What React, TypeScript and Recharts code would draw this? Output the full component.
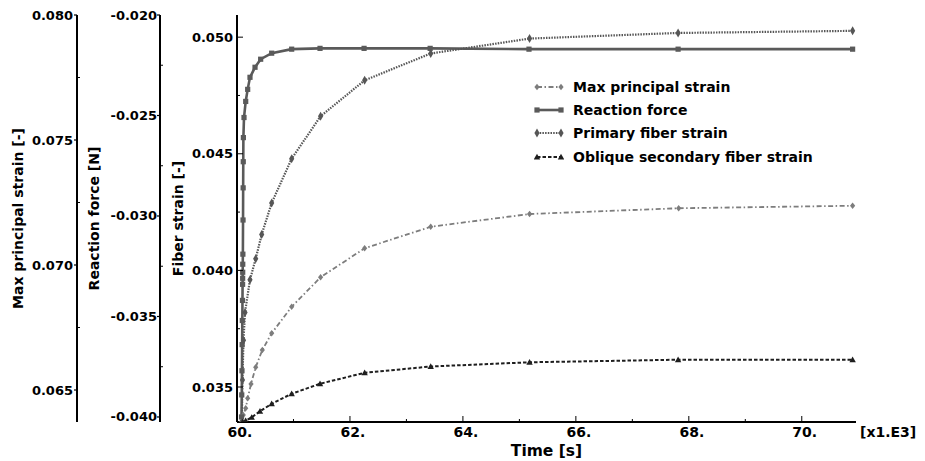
import React from 'react';
import { LineChart, Line, XAxis, YAxis, Legend } from 'recharts';

// Time is in units of 1e3 s
const reactionTime = [60.08, 60.084, 60.088, 60.091, 60.094, 60.097, 60.099, 60.1, 60.101, 60.102, 60.104, 60.107, 60.109, 60.111, 60.113, 60.124, 60.154, 60.189, 60.23, 60.319, 60.419, 60.614, 60.968, 61.47, 62.25, 63.42, 65.17, 67.81, 70.9];
const reactionForce = [-0.04, -0.0389, -0.0377, -0.0364, -0.0352, -0.0342, -0.0334, -0.0331, -0.0328, -0.0324, -0.0319, -0.0302, -0.0286, -0.0273, -0.0261, -0.0251, -0.0243, -0.0237, -0.0231, -0.0226, -0.0222, -0.0219, -0.0217, -0.02166, -0.02166, -0.02166, -0.0217, -0.0217, -0.0217];

const principalTime = [60.07, 60.111, 60.154, 60.189, 60.248, 60.331, 60.448, 60.614, 60.968, 61.48, 62.26, 63.43, 65.18, 67.82, 70.9];
const principalStrain = [0.0637, 0.064, 0.06427, 0.06467, 0.06524, 0.06591, 0.0666, 0.06727, 0.06833, 0.06951, 0.07067, 0.07153, 0.07204, 0.07227, 0.07237];

const primaryTime = [60.085, 60.097, 60.115, 60.142, 60.23, 60.331, 60.437, 60.614, 60.968, 61.48, 62.26, 63.43, 65.18, 67.81, 70.9];
const primaryStrain = [0.0335, 0.0353, 0.037, 0.0382, 0.0396, 0.0405, 0.04154, 0.04289, 0.04479, 0.04661, 0.04815, 0.0493, 0.04994, 0.05018, 0.05027];

const obliqueTime = [60.1, 60.154, 60.26, 60.407, 60.614, 60.968, 61.47, 62.26, 63.43, 65.18, 67.81, 70.9];
const obliqueStrain = [0.0335, 0.03356, 0.0337, 0.03396, 0.03428, 0.03471, 0.03514, 0.03561, 0.03588, 0.03606, 0.03617, 0.03617];

const timeTicks = [60, 61, 62, 63, 64, 65, 66, 67, 68, 69, 70];
const fiberTicks = [0.035, 0.0375, 0.04, 0.0425, 0.045, 0.0475, 0.05];
const reactionTicks = [-0.04, -0.0375, -0.035, -0.0325, -0.03, -0.0275, -0.025, -0.0225, -0.02];
const principalTicks = [0.065, 0.0675, 0.07, 0.0725, 0.075, 0.0775, 0.08];

const FONT = '"DejaVu Sans", sans-serif';
const INK = '#000';

// left axes are stacked outward from the plot in id order
const FIBER = 'y1fiber';
const REACTION = 'y2reaction';
const PRINCIPAL = 'y3principal';

const toPoints = (time: number[], values: number[]) =>
  time.map((t, i) => ({ t, v: values[i] }));

type Marker = 'square' | 'diamond' | 'smallDiamond' | 'triangle';

const series = [
  { name: 'Max principal strain', axis: PRINCIPAL, data: toPoints(principalTime, principalStrain), color: '#7d7d7d', dash: '5 2.5 1.5 2.5', width: 1.8, marker: 'smallDiamond' as Marker },
  { name: 'Reaction force', axis: REACTION, data: toPoints(reactionTime, reactionForce), color: '#5a5a5a', dash: undefined, width: 2.6, marker: 'square' as Marker },
  { name: 'Primary fiber strain', axis: FIBER, data: toPoints(primaryTime, primaryStrain), color: '#565656', dash: '1.5 1.2', width: 2.2, marker: 'diamond' as Marker },
  { name: 'Oblique secondary fiber strain', axis: FIBER, data: toPoints(obliqueTime, obliqueStrain), color: '#1e1e1e', dash: '3.5 2', width: 2, marker: 'triangle' as Marker },
];

const markerShape = (kind: Marker, cx: number, cy: number, color: string, key?: string) => {
  switch (kind) {
    case 'square':
      return <rect key={key} x={cx - 2.6} y={cy - 2.6} width={5.2} height={5.2} fill={color} />;
    case 'diamond':
      return <polygon key={key} points={`${cx},${cy - 4.5} ${cx + 2.6},${cy} ${cx},${cy + 4.5} ${cx - 2.6},${cy}`} fill={color} />;
    case 'smallDiamond':
      return <polygon key={key} points={`${cx},${cy - 3.2} ${cx + 2.6},${cy} ${cx},${cy + 3.2} ${cx - 2.6},${cy}`} fill={color} />;
    default:
      return <polygon key={key} points={`${cx},${cy - 3.2} ${cx + 3.2},${cy + 2.4} ${cx - 3.2},${cy + 2.4}`} fill={color} />;
  }
};

const dotFor = (kind: Marker, color: string) => (props: any) =>
  markerShape(kind, props.cx, props.cy, color, `dot-${props.index}`);

const isMajor = (v: number, step: number) => Math.abs(v / step - Math.round(v / step)) < 1e-6;

const labelStyle = { fontFamily: FONT, fontWeight: 700, fontSize: 13, fill: INK };
const timeLabelStyle = { ...labelStyle, fontSize: 14 };

// Outer value axes: labelled ticks point outward, half ticks point inward
const OuterTick = (props: any) => {
  const { x, y, payload, gap } = props;
  const v = payload.value as number;
  if (!isMajor(v, 0.005)) {
    return <line x1={x} x2={x + 3} y1={y} y2={y} stroke={INK} strokeWidth={1} />;
  }
  return (
    <g>
      <line x1={x - 3} x2={x} y1={y} y2={y} stroke={INK} strokeWidth={1.2} />
      <text x={x - gap} y={y} textAnchor="end" dominantBaseline="central" {...labelStyle}>
        {v.toFixed(3)}
      </text>
    </g>
  );
};

const FiberTick = (props: any) => {
  const { x, y, payload } = props;
  const v = payload.value as number;
  const major = isMajor(v, 0.005);
  return (
    <g>
      <line x1={x} x2={x + (major ? 6 : 3)} y1={y} y2={y} stroke={INK} strokeWidth={1} />
      {major && (
        <text x={x - 4} y={y} textAnchor="end" dominantBaseline="central" {...labelStyle}>
          {v.toFixed(3)}
        </text>
      )}
    </g>
  );
};

const RightTick = (props: any) => {
  const { x, y, payload } = props;
  const major = isMajor(payload.value, 0.005);
  return <line x1={x - (major ? 6 : 3)} x2={x} y1={y} y2={y} stroke={INK} strokeWidth={1} />;
};

const BottomTick = (props: any) => {
  const { x, y, payload } = props;
  const v = payload.value as number;
  const major = v % 2 === 0;
  return (
    <g>
      <line x1={x} x2={x} y1={y} y2={y - (major ? 6 : 3)} stroke={INK} strokeWidth={1} />
      {major && (
        <text x={x + 3} y={y + 10} textAnchor="middle" dominantBaseline="central" {...timeLabelStyle}>
          {`${v}.`}
        </text>
      )}
    </g>
  );
};

const TopTick = (props: any) => {
  const { x, y, payload } = props;
  const major = payload.value % 2 === 0;
  return <line x1={x} x2={x} y1={y} y2={y + (major ? 6 : 3)} stroke={INK} strokeWidth={1} />;
};

const axisTitle = (text: string, dx: number) => (props: any) => {
  const { x, y, height } = props.viewBox;
  const cx = x + dx;
  const cy = y + height / 2;
  return (
    <text
      x={cx}
      y={cy}
      transform={`rotate(-90 ${cx} ${cy})`}
      textAnchor="middle"
      dominantBaseline="central"
      fontFamily={FONT}
      fontWeight={700}
      fontSize={14}
      fill={INK}
    >
      {text}
    </text>
  );
};

const timeTitle = (props: any) => {
  const { x, y, width } = props.viewBox;
  return (
    <g>
      <text x={x + width / 2} y={y + 29} textAnchor="middle" dominantBaseline="central" fontFamily={FONT} fontWeight={700} fontSize={15.5} fill={INK}>
        Time [s]
      </text>
      <text x={x + width + 4} y={y + 10} textAnchor="start" dominantBaseline="central" {...timeLabelStyle}>
        [x1.E3]
      </text>
    </g>
  );
};

const LegendBox = () => (
  <div style={{ fontFamily: FONT, fontWeight: 700, fontSize: 14, color: INK }}>
    {series.map((s) => (
      <div key={s.name} style={{ display: 'flex', alignItems: 'center', height: 23.3, whiteSpace: 'nowrap' }}>
        <svg width={30} height={12} style={{ marginRight: 9 }}>
          <line x1={3} x2={27} y1={6} y2={6} stroke={s.color} strokeWidth={s.width} strokeDasharray={s.dash} />
          {markerShape(s.marker, 3, 6, s.color)}
          {markerShape(s.marker, 27, 6, s.color)}
        </svg>
        <span>{s.name}</span>
      </div>
    ))}
  </div>
);

const App: React.FC = () => {
  return (
    <div style={{ position: 'absolute', left: 0, top: 0, width: 925, height: 461, background: '#fff' }}>
      <LineChart width={925} height={461} margin={{ top: 15, right: 69, bottom: 0, left: 0 }}>
        <XAxis
          xAxisId="bottom"
          dataKey="t"
          type="number"
          domain={[60, 70.96]}
          allowDataOverflow
          ticks={timeTicks}
          interval={0}
          height={39}
          tickSize={0}
          tickMargin={0}
          tickLine={false}
          tick={<BottomTick />}
          axisLine={{ stroke: INK, strokeWidth: 2 }}
          label={{ content: timeTitle }}
        />
        <XAxis
          xAxisId="top"
          orientation="top"
          dataKey="t"
          type="number"
          domain={[60, 70.96]}
          allowDataOverflow
          ticks={timeTicks}
          interval={0}
          height={0}
          tickSize={0}
          tickMargin={0}
          tickLine={false}
          tick={<TopTick />}
          axisLine={{ stroke: INK, strokeWidth: 2 }}
        />
        <YAxis
          yAxisId={FIBER}
          orientation="left"
          type="number"
          domain={[0.0335, 0.05095]}
          allowDataOverflow
          ticks={fiberTicks}
          interval={0}
          width={77}
          tickSize={0}
          tickMargin={0}
          tickLine={false}
          tick={<FiberTick />}
          axisLine={{ stroke: INK, strokeWidth: 2 }}
          label={{ content: axisTitle('Fiber strain [-]', 18) }}
        />
        <YAxis
          yAxisId={REACTION}
          orientation="left"
          type="number"
          domain={[-0.04025, -0.02]}
          allowDataOverflow
          ticks={reactionTicks}
          interval={0}
          width={83}
          tickSize={0}
          tickMargin={0}
          tickLine={false}
          tick={<OuterTick gap={3} />}
          axisLine={{ stroke: INK, strokeWidth: 2 }}
          label={{ content: axisTitle('Reaction force [N]', 17) }}
        />
        <YAxis
          yAxisId={PRINCIPAL}
          orientation="left"
          type="number"
          domain={[0.06372, 0.08]}
          allowDataOverflow
          ticks={principalTicks}
          interval={0}
          width={77}
          tickSize={0}
          tickMargin={0}
          tickLine={false}
          tick={<OuterTick gap={4} />}
          axisLine={{ stroke: INK, strokeWidth: 2 }}
          label={{ content: axisTitle('Max principal strain [-]', 18) }}
        />
        <YAxis
          yAxisId="y4fiberRight"
          orientation="right"
          type="number"
          domain={[0.0335, 0.05095]}
          allowDataOverflow
          ticks={fiberTicks}
          interval={0}
          width={0}
          tickSize={0}
          tickMargin={0}
          tickLine={false}
          tick={<RightTick />}
          axisLine={{ stroke: INK, strokeWidth: 2 }}
        />
        <Legend
          layout="vertical"
          align="center"
          verticalAlign="middle"
          content={<LegendBox />}
          wrapperStyle={{ left: 534, top: 75, width: 'auto' }}
        />
        {series.map((s) => (
          <Line
            key={s.name}
            name={s.name}
            data={s.data}
            dataKey="v"
            xAxisId="bottom"
            yAxisId={s.axis}
            type="linear"
            stroke={s.color}
            strokeWidth={s.width}
            strokeDasharray={s.dash}
            dot={dotFor(s.marker, s.color)}
            activeDot={false}
            isAnimationActive={false}
          />
        ))}
      </LineChart>
    </div>
  );
};

export default App;
